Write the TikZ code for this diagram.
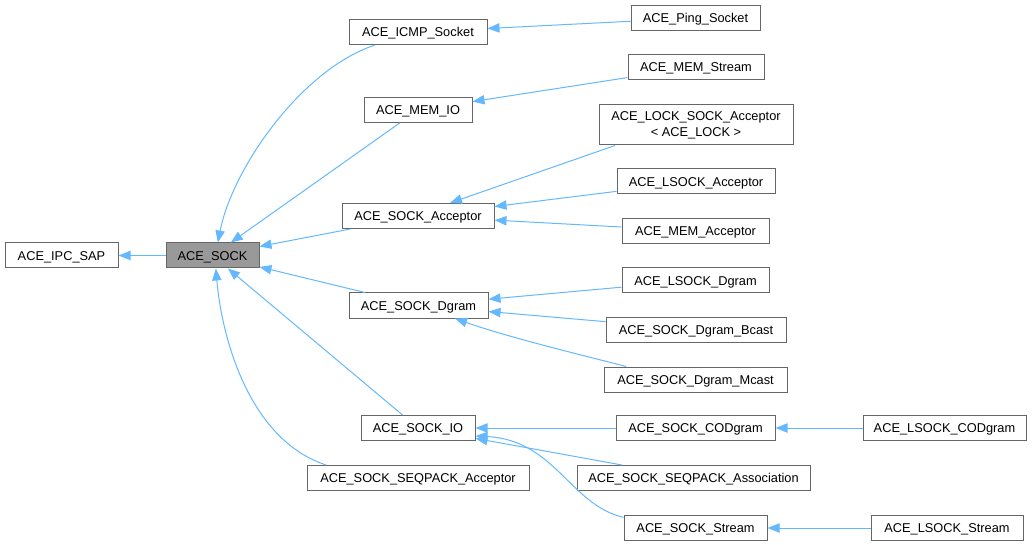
\documentclass[tikz,border=0pt]{standalone}
\usepackage{fontspec}
\setmainfont{Liberation Sans}
\usetikzlibrary{arrows.meta}

\definecolor{boxgray}{HTML}{666666}
\definecolor{rootgray}{HTML}{999999}
\definecolor{inhblue}{HTML}{63B8FF}

\tikzset{
  cls/.style={draw=boxgray, line width=0.75pt, fill=white, inner sep=0pt, minimum height=18.75pt, text height=7pt, text depth=0pt, font=\fontsize{9.6}{12}\selectfont},
  clsroot/.style={cls, fill=rootgray},
  inh/.style={draw=inhblue, line width=0.75pt, -{Triangle[length=9pt,width=7pt]}}
}

\begin{document}
\begin{tikzpicture}[x=0.75pt,y=0.75pt,yscale=-1,xscale=1]
\useasboundingbox (0,0) rectangle (1035,545);

% Text Node
\node [cls, minimum width=84.75pt] (IPCSAP) at (61.5,255.5) {ACE\_IPC\_SAP};
% Text Node
\node [clsroot, minimum width=69.75pt] (SOCK) at (212.5,255.5) {ACE\_SOCK};

% Text Node
\node [cls, minimum width=103.5pt] (ICMP) at (418,32) {ACE\_ICMP\_Socket};
\node [cls, minimum width=81pt] (MEMIO) at (418,110) {ACE\_MEM\_IO};
\node [cls, minimum width=114pt] (SOCKAcc) at (418,216) {ACE\_SOCK\_Acceptor};
\node [cls, minimum width=104.25pt] (SOCKDgram) at (418.5,305.5) {ACE\_SOCK\_Dgram};
\node [cls, minimum width=85.5pt] (SOCKIO) at (418,428) {ACE\_SOCK\_IO};
\node [cls, minimum width=166.5pt] (SEQPACKAcc) at (418,478) {ACE\_SOCK\_SEQPACK\_Acceptor};

% Text Node
\node [cls, minimum width=96.75pt] (Ping) at (695.5,18) {ACE\_Ping\_Socket};
\node [cls, minimum width=102pt] (MEMStream) at (696,67) {ACE\_MEM\_Stream};
\node [cls, minimum width=145.5pt, minimum height=30pt, text height=, text depth=, align=center] (LOCKAcc) at (696,125) {ACE\_LOCK\_SOCK\_Acceptor\\< ACE\_LOCK >};
\node [cls, minimum width=118.5pt] (LSOCKAcc) at (696,181.5) {ACE\_LSOCK\_Acceptor};
\node [cls, minimum width=110.25pt] (MEMAcc) at (695.5,231) {ACE\_MEM\_Acceptor};
\node [cls, minimum width=110.25pt] (LSOCKDgram) at (695.5,280.5) {ACE\_LSOCK\_Dgram};
\node [cls, minimum width=135pt] (DgramBcast) at (696,329.5) {ACE\_SOCK\_Dgram\_Bcast};
\node [cls, minimum width=137.25pt] (DgramMcast) at (695.5,379.5) {ACE\_SOCK\_Dgram\_Mcast};
\node [cls, minimum width=119.25pt] (SOCKCOD) at (695.5,428) {ACE\_SOCK\_CODgram};
\node [cls, minimum width=174.75pt] (SEQPACKAssoc) at (693.5,478) {ACE\_SOCK\_SEQPACK\_Association};
\node [cls, minimum width=107.25pt] (SOCKStream) at (695.5,528) {ACE\_SOCK\_Stream};

% Text Node
\node [cls, minimum width=122.25pt] (LSOCKCOD) at (944.5,428) {ACE\_LSOCK\_CODgram};
\node [cls, minimum width=114pt] (LSOCKStream) at (947,528) {ACE\_LSOCK\_Stream};

%Straight Lines
\draw [inh] (SOCK) -- (IPCSAP);
\draw [inh] ([xshift=-32.25pt]ICMP.south) .. controls (300,70) and (232,170) .. ([xshift=4pt]SOCK.north);
\draw [inh] (MEMIO) -- (SOCK);
\draw [inh] (SOCKAcc) -- (SOCK);
\draw [inh] (SOCKDgram) -- (SOCK);
\draw [inh] (SOCKIO) -- (SOCK);
\draw [inh] ([xshift=-69pt]SEQPACKAcc.north) .. controls (250,440) and (222,340) .. ([xshift=2.5pt]SOCK.south);

%Straight Lines
\draw [inh] (Ping) -- (ICMP);
\draw [inh] (MEMStream) -- (MEMIO);
\draw [inh] ([xshift=-60.75pt]LOCKAcc.south) -- ([xshift=24pt]SOCKAcc.north);
\draw [inh] (LSOCKAcc) -- (SOCKAcc);
\draw [inh] (MEMAcc) -- (SOCKAcc);
\draw [inh] (LSOCKDgram) -- (SOCKDgram);
\draw [inh] (DgramBcast) -- (SOCKDgram);
\draw [inh] ([xshift=-52pt]DgramMcast.north) .. controls (590,357) and (510,338) .. ([xshift=27.4pt]SOCKDgram.south);
\draw [inh] (SOCKCOD) -- (SOCKIO);
\draw [inh] (SEQPACKAssoc) -- (SOCKIO);
\draw [inh] ([yshift=-8pt]SOCKStream.west) .. controls (570,505) and (555,440) .. ([yshift=6pt]SOCKIO.east);

%Straight Lines
\draw [inh] (LSOCKCOD) -- (SOCKCOD);
\draw [inh] (LSOCKStream) -- (SOCKStream);

\end{tikzpicture}
\end{document}
